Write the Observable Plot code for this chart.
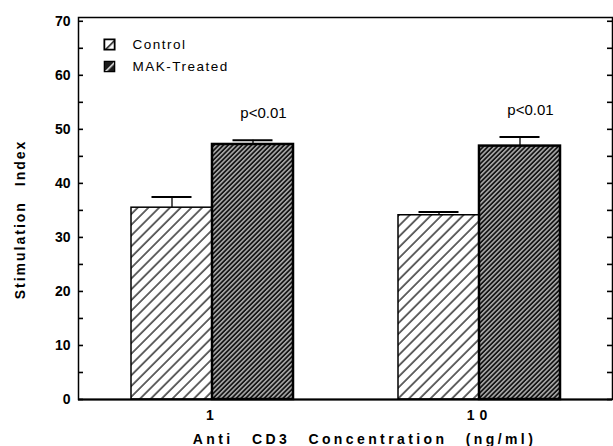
<!DOCTYPE html>
<html><head><meta charset="utf-8">
<script src="https://cdn.jsdelivr.net/npm/d3@7"></script>
<script src="https://cdn.jsdelivr.net/npm/@observablehq/plot@0.6"></script>
<style>
body{margin:0;background:#fff}
svg{font-family:"Liberation Sans",Arial,sans-serif}
.xtitle text{letter-spacing:3.4px;word-spacing:11px}
.ytitle text{letter-spacing:2px;word-spacing:9px}
.xaxis text{letter-spacing:5px}
.legendtext text{letter-spacing:1.5px}
</style>
</head><body><div id="chart"></div>
<script>
const concentrations = ["1", "10"];
const seriesNames = ["Control", "MAK-Treated"];
const controlValues = [35.5, 34.1];
const controlErrors = [2.0, 0.6];
const makValues = [47.2, 46.9];
const makErrors = [0.8, 1.7];
const pLabels = ["p<0.01", "p<0.01"];
const yTicks = [0, 10, 20, 30, 40, 50, 60, 70];
const yMinorTicks = [0, 5, 10, 15, 20, 25, 30, 35, 40, 45, 50, 55, 60, 65, 70];
const xTitle = "Anti CD3 Concentration (ng/ml)";
const yTitle = "Stimulation Index";

const control = concentrations.map((c, i) => ({conc: c, value: controlValues[i], err: controlErrors[i]}));
const mak = concentrations.map((c, i) => ({conc: c, value: makValues[i], err: makErrors[i], p: pLabels[i]}));
const legendControl = [{name: seriesNames[0]}];
const legendMak = [{name: seriesNames[1]}];

const W = 613, H = 446, mL = 78, mR = 1, mT = 17, mB = 47;
const frameW = W - mL - mR;
const pi = 0.3933, po = 0.1966;
const step = frameW / (concentrations.length - pi + 2 * po);
const bw = step * (1 - pi);
const half = bw / 2;
const capW = 40;
const capIn = (half - capW) / 2;

const svg = Plot.plot({
  width: W, height: H,
  marginLeft: mL, marginRight: mR, marginTop: mT, marginBottom: mB,
  x: {type: "band", domain: concentrations, paddingInner: pi, paddingOuter: po, axis: null},
  y: {domain: [0, 70.7], axis: null},
  marks: [
    Plot.barY(control, {x: "conc", y: "value", fill: "url(#hatchControl)", stroke: "black", strokeWidth: 1.5, insetRight: half}),
    Plot.barY(mak, {x: "conc", y: "value", fill: "url(#hatchMak)", stroke: "black", strokeWidth: 2.5, insetLeft: half}),
    Plot.ruleX(control, {x: "conc", y1: "value", y2: d => d.value + d.err, dx: -half / 2, strokeWidth: 1.3}),
    Plot.ruleX(mak, {x: "conc", y1: "value", y2: d => d.value + d.err, dx: half / 2, strokeWidth: 1.3}),
    Plot.tickY(control, {x: "conc", y: d => d.value + d.err, insetLeft: capIn, insetRight: half + capIn, strokeWidth: 2}),
    Plot.tickY(mak, {x: "conc", y: d => d.value + d.err, insetLeft: half + capIn, insetRight: capIn, strokeWidth: 2}),
    Plot.text(mak, {x: "conc", y: d => d.value + d.err, text: "p", dx: 51, dy: -27, fontSize: 15}),
    Plot.tickY(yMinorTicks, {y: d => d, insetRight: frameW - 5, strokeWidth: 1.6}),
    Plot.tickY(yMinorTicks, {y: d => d, insetLeft: frameW - 5, strokeWidth: 1.6}),
    Plot.frame({stroke: "black", strokeWidth: 1.5}),
    Plot.ruleY([0], {strokeWidth: 2}),
    Plot.axisY(yTicks, {anchor: "left", tickSize: 0, tickPadding: 8, fontSize: 14, fontWeight: "bold", label: null}),
    Plot.axisX({anchor: "bottom", tickSize: 0, tickPadding: 11, fontSize: 14, fontWeight: "bold", label: null, className: "xaxis"}),
    Plot.text([xTitle], {frameAnchor: "bottom", textAnchor: "middle", lineAnchor: "middle", dx: 19, dy: 40, fontSize: 14, fontWeight: "bold", className: "xtitle"}),
    Plot.text([yTitle], {frameAnchor: "left", textAnchor: "middle", lineAnchor: "middle", rotate: -90, dx: -58, dy: 11, fontSize: 14, fontWeight: "bold", className: "ytitle"}),
    Plot.dot(legendControl, {frameAnchor: "top-left", dx: 31, dy: 27, symbol: "square", r: 5.8, fill: "url(#swatchControl)", stroke: "black", strokeWidth: 1.8}),
    Plot.dot(legendMak, {frameAnchor: "top-left", dx: 31, dy: 49, symbol: "square", r: 5.8, fill: "url(#swatchMak)", stroke: "black", strokeWidth: 1.3}),
    Plot.text(legendControl, {frameAnchor: "top-left", dx: 54, dy: 27, text: "name", textAnchor: "start", lineAnchor: "middle", fontSize: 13.5, className: "legendtext"}),
    Plot.text(legendMak, {frameAnchor: "top-left", dx: 54, dy: 49, text: "name", textAnchor: "start", lineAnchor: "middle", fontSize: 13.5, className: "legendtext"})
  ]
});

const defs = `<defs>
<pattern id="hatchControl" width="7.6" height="7.6" patternUnits="userSpaceOnUse" patternTransform="rotate(45)">
<rect width="7.6" height="7.6" fill="white"/><line x1="1" y1="0" x2="1" y2="7.6" stroke="black" stroke-width="1.2"/></pattern>
<pattern id="hatchMak" width="3.3" height="3.3" patternUnits="userSpaceOnUse" patternTransform="rotate(45)">
<rect width="3.3" height="3.3" fill="#151515"/><line x1="1.6" y1="0" x2="1.6" y2="3.3" stroke="white" stroke-width="1"/></pattern>
<pattern id="swatchControl" width="12" height="12" patternUnits="userSpaceOnUse" patternTransform="rotate(45)">
<rect width="12" height="12" fill="white"/><line x1="0.8" y1="0" x2="0.8" y2="12" stroke="black" stroke-width="1.4"/></pattern>
<pattern id="swatchMak" width="12" height="12" patternUnits="userSpaceOnUse" patternTransform="rotate(45)">
<rect width="12" height="12" fill="#1a1a1a"/><line x1="0.8" y1="0" x2="0.8" y2="12" stroke="white" stroke-width="1.4"/></pattern>
</defs>`;
svg.insertAdjacentHTML("afterbegin", defs);
document.getElementById("chart").appendChild(svg);
</script>
</body></html>
